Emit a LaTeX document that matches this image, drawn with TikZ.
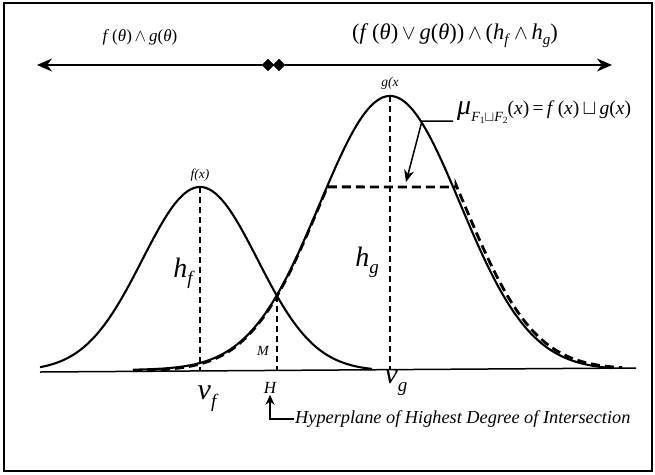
\documentclass[tikz,border=0pt]{standalone}
\usepackage{fontspec}
\setmainfont{Liberation Serif}
\usetikzlibrary{arrows.meta,shapes.geometric}
\begin{document}
\begin{tikzpicture}[x=1pt,y=-1pt,
  curve/.style={line width=2.1pt},
  udash/.style={line width=2.8pt,dash pattern=on 9pt off 5pt},
  vdash/.style={line width=1.5pt,dash pattern=on 6pt off 4pt},
  dmd/.style={diamond,fill=black,draw=black,inner sep=0pt,minimum size=12pt},
  lbl/.style={inner sep=1pt,font=\itshape}]
\useasboundingbox (0,0) rectangle (655,474);
\draw[line width=1.8pt] (4,3) rectangle (652,471);
% top axis
\node[dmd] (d1) at (268,65) {};
\node[dmd] (d2) at (279,65) {};
\coordinate (la) at (37,65);
\coordinate (ra) at (612,65);
\draw[line width=1.6pt,-{Stealth[length=15pt,width=13pt]}] (d1) -- (la);
\draw[line width=1.6pt,-{Stealth[length=15pt,width=13pt]}] (d2) -- (ra);
\node (lt) at (140,37) {\fontsize{17}{17}\selectfont\textit{f}\,(\textit{θ})\,$\wedge$\,\textit{g}(\textit{θ})};
\node (rt) at (455,36) {\fontsize{22.5}{22.5}\selectfont(\textit{f}\,(\textit{θ})\,$\vee$\,\textit{g}(\textit{θ}))\,$\wedge$\,(\textit{h}\raisebox{-5pt}{\fontsize{15}{15}\selectfont\textit{f}}\,$\wedge$\,\textit{h}\raisebox{-5pt}{\fontsize{15}{15}\selectfont\textit{g}})};
% baseline
\coordinate (bl) at (40,372);
\coordinate (br) at (636,368);
\draw[line width=1.5pt] (bl) -- (br);
% curves
\draw[curve] plot[domain=40:372,samples=120] (\x,{371-184*exp(-0.5*((\x-200)/57.5)^2)});
\draw[curve] plot[domain=133:612,samples=160] (\x,{370-274*exp(-0.5*((\x-390)/70.2)^2)});
% union dashed
\draw[udash] plot[domain=133:327.4,samples=80] (\x,{371-274*exp(-0.5*((\x-390)/70.2)^2)})
  -- (456,187) -- plot[domain=456:622,samples=80] (\x,{369-274*exp(-0.5*((\x-393.4)/70.2)^2)});
% verticals
\coordinate (fpk) at (200,187);
\coordinate (fb) at (200,371);
\coordinate (gpk) at (390,96);
\coordinate (gb) at (390,370);
\coordinate (ix) at (277,296);
\coordinate (ib) at (277,371);
\draw[vdash] (fpk) -- (fb);
\draw[vdash] (gpk) -- (gb);
\draw[vdash] (ix) -- (ib);
% labels
\node[lbl] (fx) at (200,175) {\fontsize{13.5}{13.5}\selectfont f(x)};
\node[lbl] (gx) at (390,83) {\fontsize{13.5}{13.5}\selectfont g(x};
\node[lbl] (hf) at (183,273) {\fontsize{28}{28}\selectfont h\raisebox{-7pt}{\fontsize{19}{19}\selectfont f}};
\node[lbl] (hg) at (367,262) {\fontsize{28}{28}\selectfont h\raisebox{-7pt}{\fontsize{19}{19}\selectfont g}};
\node[lbl] (vf) at (207,399) {\fontsize{30}{30}\selectfont v\raisebox{-8pt}{\fontsize{19}{19}\selectfont f}};
\node[lbl] (vg) at (396,383) {\fontsize{30}{30}\selectfont v\raisebox{-8pt}{\fontsize{19}{19}\selectfont g}};
\node[lbl] (M) at (263,351) {\fontsize{14}{14}\selectfont M};
\node[lbl] (H) at (270,388) {\fontsize{17}{17}\selectfont H};
\node[lbl,anchor=west] (hyp) at (294,419) {\fontsize{18.3}{18.3}\selectfont Hyperplane of Highest Degree of Intersection};
\draw[line width=1.4pt,-{Stealth[length=10pt,width=9pt]}] (hyp.west) -| (H.south);
% mu label
\node[anchor=west,inner sep=0pt] (mu) at (457,112) {{\fontsize{28}{28}\selectfont\textit{μ}}\raisebox{-7pt}{\fontsize{14}{14}\selectfont\textit{F}\raisebox{-2pt}{\fontsize{9.5}{9.5}\selectfont 1}$\sqcup$\textit{F}\raisebox{-2pt}{\fontsize{9.5}{9.5}\selectfont 2}}{\fontsize{19.5}{19.5}\selectfont(\textit{x})\,=\,\textit{f}\,(\textit{x})\,$\sqcup$\,\textit{g}(\textit{x})}};
\coordinate (mus) at (453,121);
\coordinate (mub) at (422,121);
\coordinate (mut) at (406,182);
\draw[line width=1.5pt,-{Stealth[length=12pt,width=10pt]}] (mus) -- (mub) -- (mut);
\end{tikzpicture}
\end{document}
